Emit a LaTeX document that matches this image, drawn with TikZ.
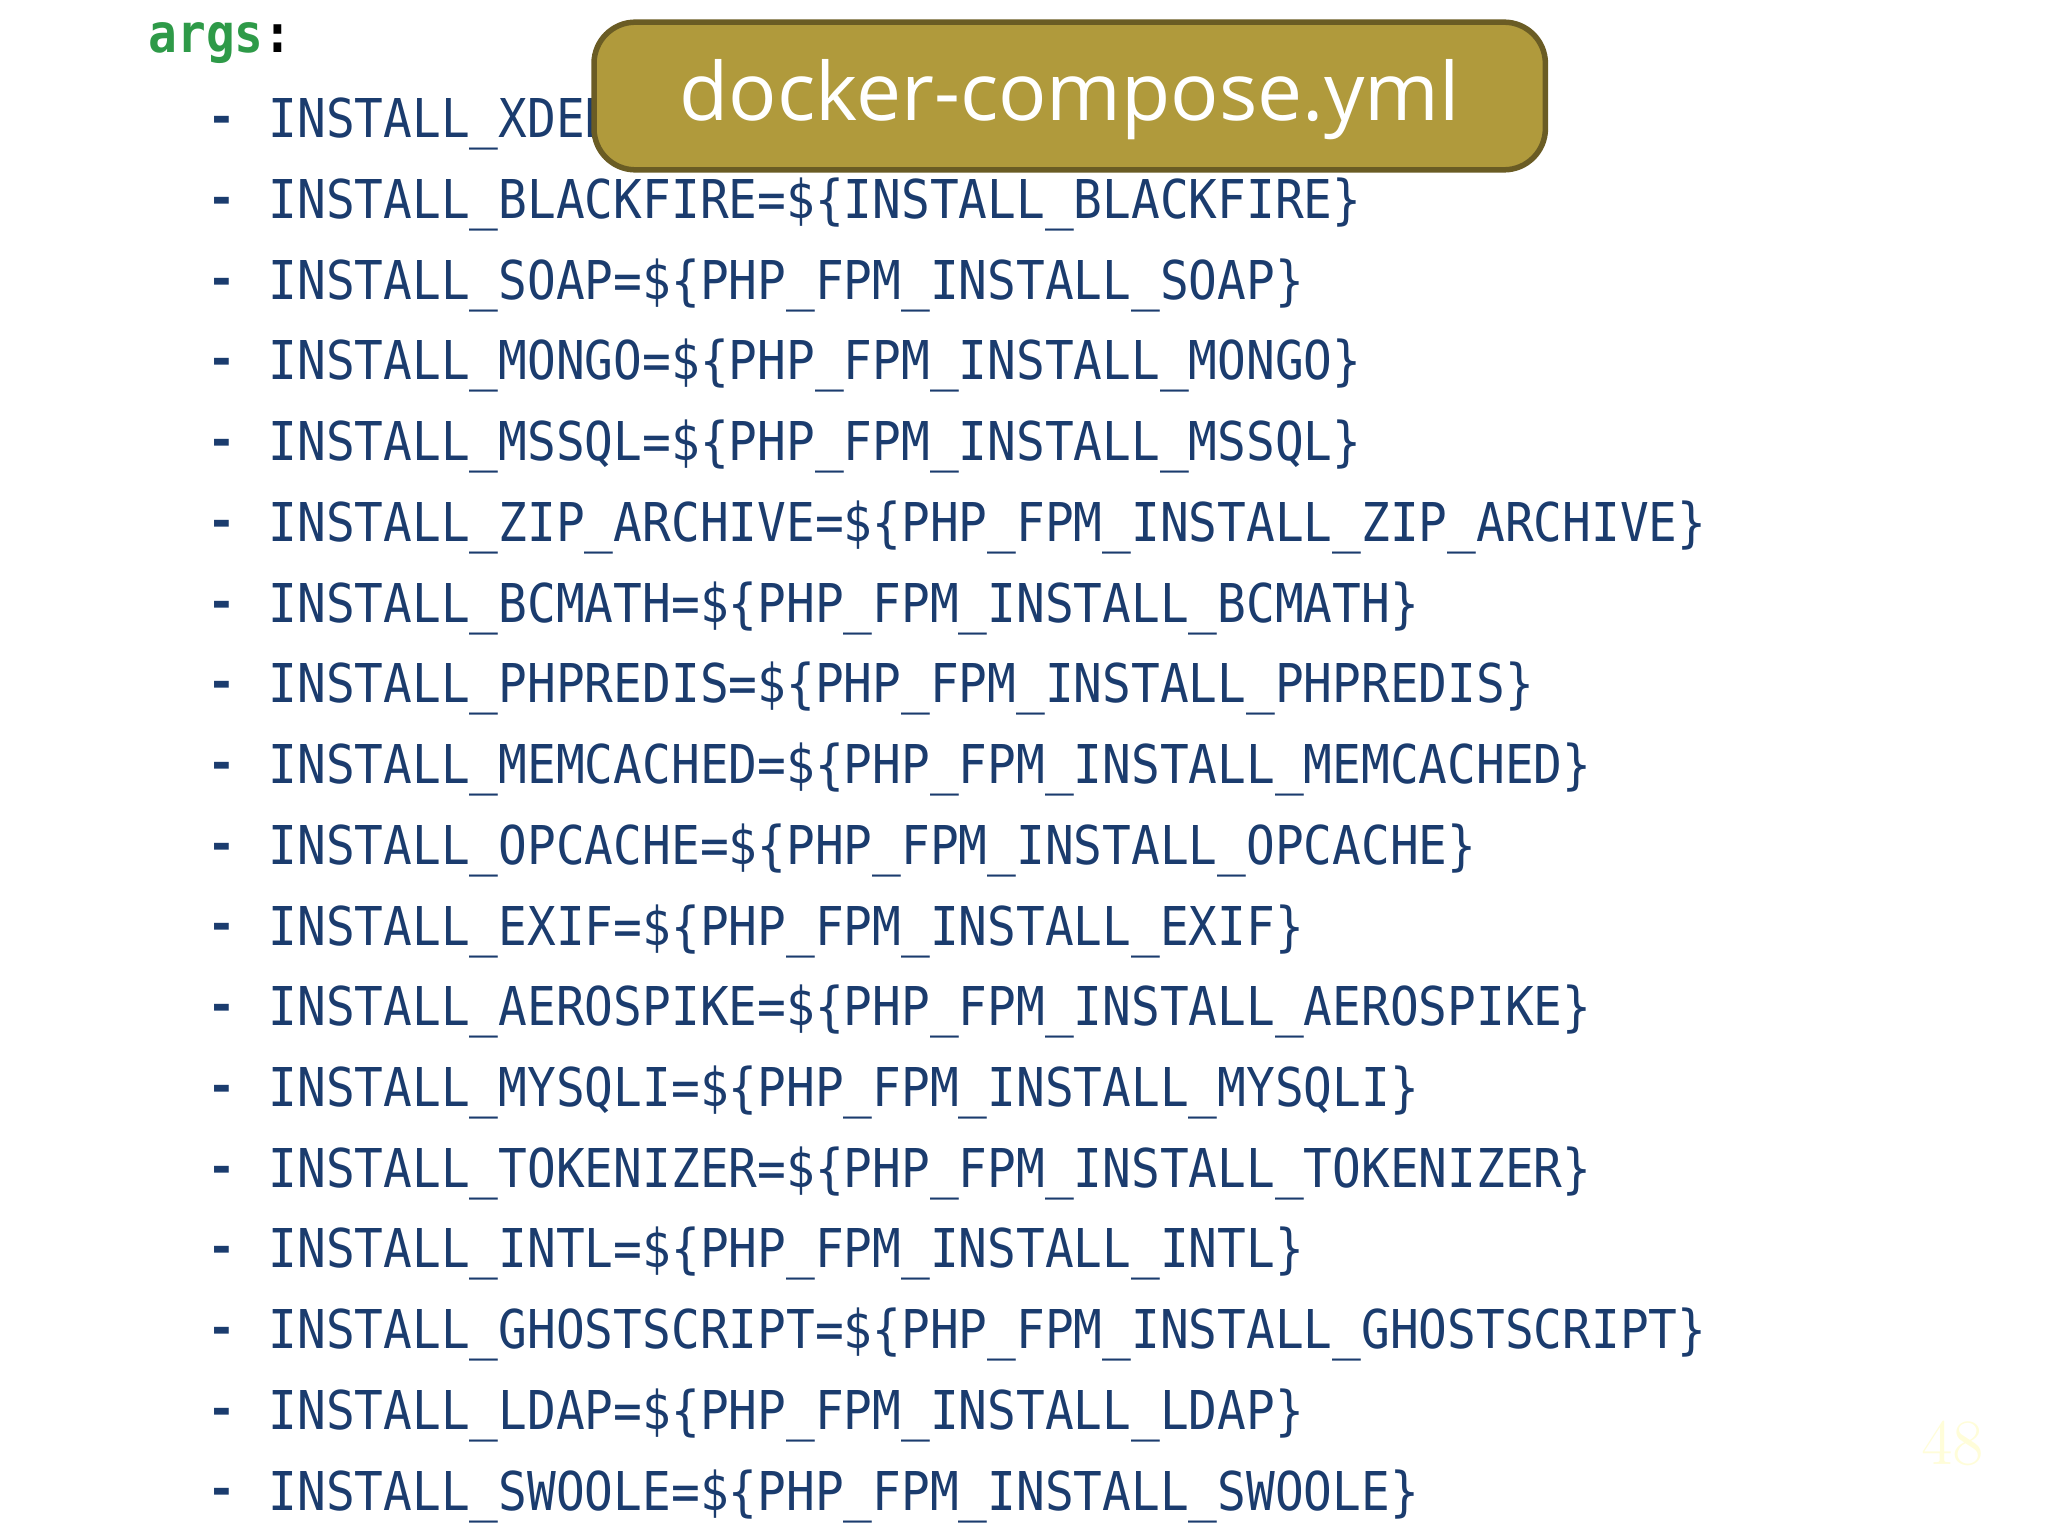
\documentclass[tikz,border=0pt]{standalone}
\usepackage{fontspec}
\setmonofont{DejaVu Sans Mono}
\newfontfamily\boxfont{Open Sans}
\begin{document}
\begin{tikzpicture}[x=0.01cm,y=-0.01cm,
  ln/.style={anchor=west,inner sep=0,text=codeblue,font=\fontsize{10.4}{12}\ttfamily,yscale=1.12},
  bullet/.style={anchor=center,inner sep=0,text=codeblue,font=\fontsize{10.4}{12}\ttfamily\bfseries}]
\definecolor{codeblue}{HTML}{1B3C6E}
\definecolor{gold}{HTML}{B09A3C}
\definecolor{argsgreen}{HTML}{2E9A48}
\useasboundingbox (0,0) rectangle (1568,1176);
\node[anchor=west,inner sep=0,text=argsgreen,font=\fontsize{10.4}{12}\ttfamily\bfseries,yscale=1.12] (args) at (113,33) {args\textcolor{black}{:}};
\foreach \t [count=\i] in {
INSTALL\_XDEBUG=\$\{PHP\_FPM\_INSTALL\_XDEBUG\},
INSTALL\_BLACKFIRE=\$\{INSTALL\_BLACKFIRE\},
INSTALL\_SOAP=\$\{PHP\_FPM\_INSTALL\_SOAP\},
INSTALL\_MONGO=\$\{PHP\_FPM\_INSTALL\_MONGO\},
INSTALL\_MSSQL=\$\{PHP\_FPM\_INSTALL\_MSSQL\},
INSTALL\_ZIP\_ARCHIVE=\$\{PHP\_FPM\_INSTALL\_ZIP\_ARCHIVE\},
INSTALL\_BCMATH=\$\{PHP\_FPM\_INSTALL\_BCMATH\},
INSTALL\_PHPREDIS=\$\{PHP\_FPM\_INSTALL\_PHPREDIS\},
INSTALL\_MEMCACHED=\$\{PHP\_FPM\_INSTALL\_MEMCACHED\},
INSTALL\_OPCACHE=\$\{PHP\_FPM\_INSTALL\_OPCACHE\},
INSTALL\_EXIF=\$\{PHP\_FPM\_INSTALL\_EXIF\},
INSTALL\_AEROSPIKE=\$\{PHP\_FPM\_INSTALL\_AEROSPIKE\},
INSTALL\_MYSQLI=\$\{PHP\_FPM\_INSTALL\_MYSQLI\},
INSTALL\_TOKENIZER=\$\{PHP\_FPM\_INSTALL\_TOKENIZER\},
INSTALL\_INTL=\$\{PHP\_FPM\_INSTALL\_INTL\},
INSTALL\_GHOSTSCRIPT=\$\{PHP\_FPM\_INSTALL\_GHOSTSCRIPT\},
INSTALL\_LDAP=\$\{PHP\_FPM\_INSTALL\_LDAP\},
INSTALL\_SWOOLE=\$\{PHP\_FPM\_INSTALL\_SWOOLE\}} {
  \node[bullet] (d\i) at (170,{34+61.8*\i}) {-};
  \node[ln] (l\i) at (205,{33+61.8*\i}) {\t};
}
\node[draw=gold!60!black,line width=1.2pt,fill=gold,rounded corners=9pt,minimum width=7.28cm,minimum height=1.13cm] (box) at (819,73.5) {};
\node[text=white,font=\boxfont\fontsize{17.5}{21}\selectfont,inner sep=0] (title) at (819,76) {docker-compose.yml};
\node[text=yellow!15,font=\fontsize{14}{16}\selectfont] (pg) at (1495,1105) {48};
\end{tikzpicture}
\end{document}
